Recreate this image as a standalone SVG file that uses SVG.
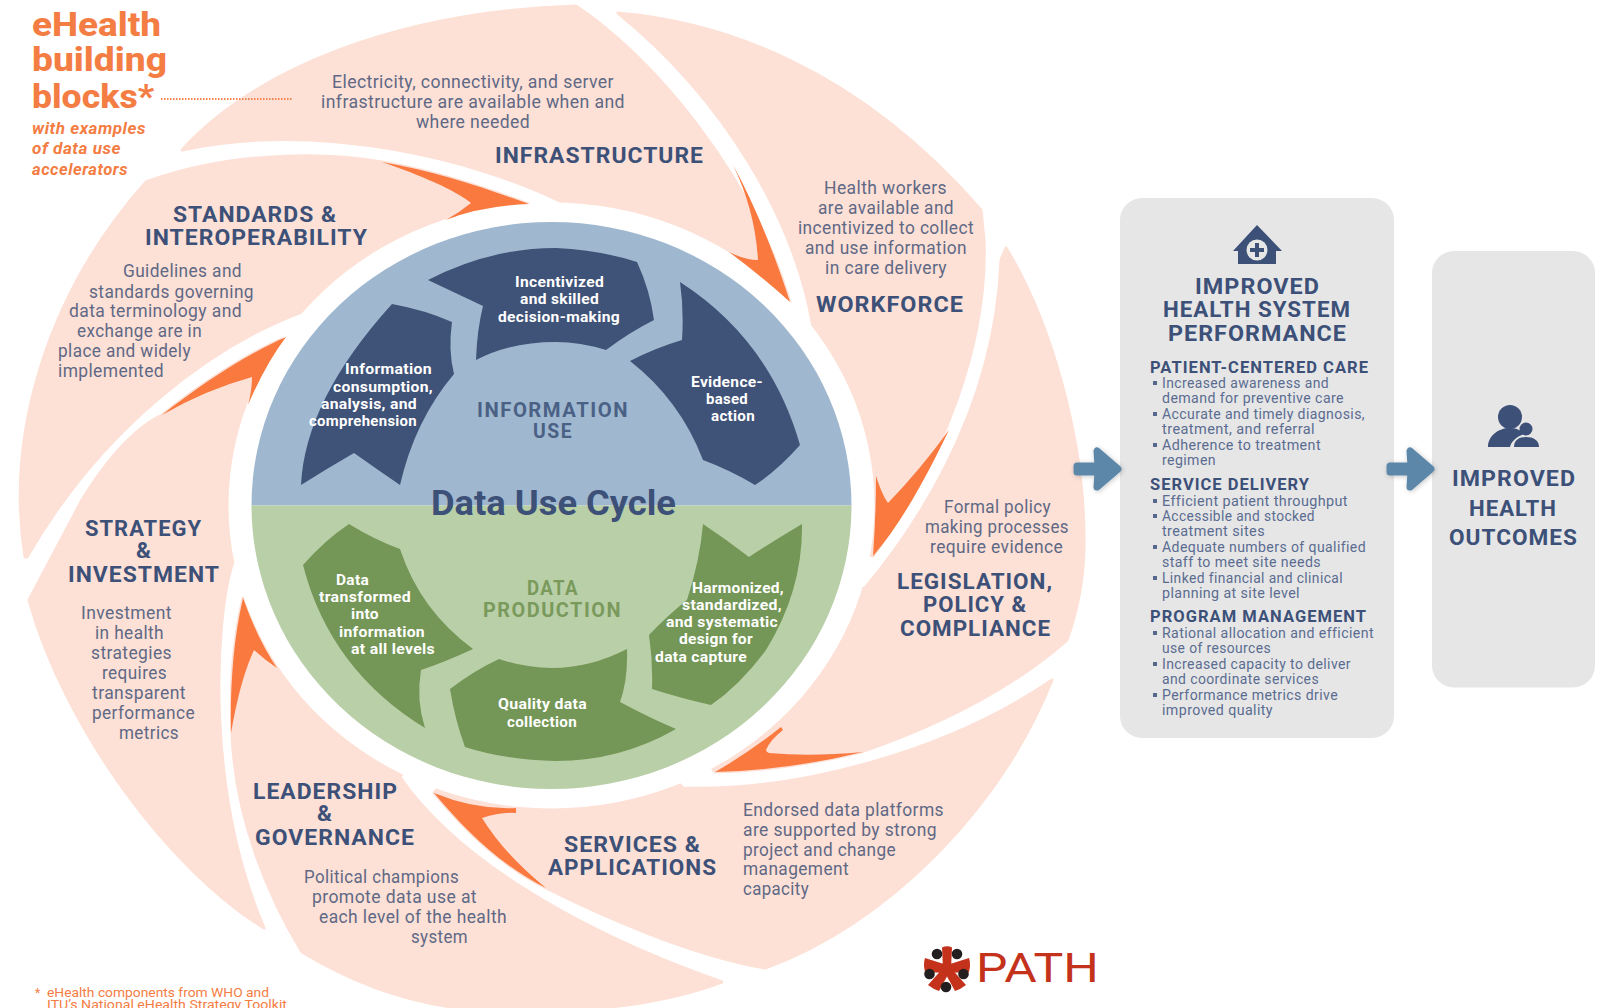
<svg xmlns="http://www.w3.org/2000/svg" width="1605" height="1008" viewBox="0 0 1605 1008">
<style>
text{font-family:Roboto,"Noto Sans",sans-serif}
.p{fill:#fde0d6;stroke:#fde0d6;stroke-width:3;stroke-linejoin:round}
.o{fill:#f9793f}
.b{font-size:17.5px;fill:#5f6985;letter-spacing:.4px}
.t{font-size:22.5px;font-weight:700;fill:#3c5078;letter-spacing:1px}
.w{font-size:15px;font-weight:700;fill:#fff;letter-spacing:.3px}
.h{font-size:16px;font-weight:700;fill:#3c5078;letter-spacing:1px}
.l{font-size:14px;fill:#5a6c90;letter-spacing:.4px}
.box{fill:#e6e6e7}
.ic{fill:#3c5078}
.ar{fill:#5b87a8;stroke:#5b87a8;stroke-width:7;stroke-linejoin:round;filter:url(#sh)}
.bu{fill:#56688c}
.db{fill:#3f5277}
.dg{fill:#749656}
.c{font-size:20px;font-weight:700;letter-spacing:1.5px}
.big{font-size:34px;font-weight:800}
.it{font-size:16px;font-weight:700;font-style:italic;letter-spacing:.5px}
</style>
<defs>
<filter id="sh" x="-30%" y="-30%" width="160%" height="160%"><feDropShadow dx="1" dy="1" stdDeviation="2.5" flood-color="#000" flood-opacity=".22"/></filter>
<path id="flow" class="ar" d="M-5,0L-26,-18L-25,-3L-46,-3L-46,3L-25,3L-26,18Z"/>
</defs>
<rect width="1605" height="1008" fill="#fff"/>

<g id="petal-infrastructure">
<path class="p" d="M182,150C255,70 395,12 576,6C650,55 750,170 790,302L560,300L568,205C480,160 320,120 182,150Z"/>
<text class="b" x="332" y="88" textLength="282" lengthAdjust="spacingAndGlyphs">Electricity, connectivity, and server</text>
<text class="b" x="321" y="108" textLength="304" lengthAdjust="spacingAndGlyphs">infrastructure are available when and</text>
<text class="b" x="416" y="128" textLength="114" lengthAdjust="spacingAndGlyphs">where needed</text>
<text class="t" x="495" y="163" textLength="209" lengthAdjust="spacingAndGlyphs">INFRASTRUCTURE</text>
</g>
<g id="petal-workforce">
<path class="p" d="M618,13C720,22 855,65 981,210L984,240C988,340 945,460 873,556L700,500L813,327C795,220 725,100 618,13Z"/>
<text class="b" x="824" y="194" textLength="123" lengthAdjust="spacingAndGlyphs">Health workers</text>
<text class="b" x="818" y="214" textLength="136" lengthAdjust="spacingAndGlyphs">are available and</text>
<text class="b" x="798" y="234" textLength="176" lengthAdjust="spacingAndGlyphs">incentivized to collect</text>
<text class="b" x="805" y="254" textLength="162" lengthAdjust="spacingAndGlyphs">and use information</text>
<text class="b" x="825" y="274" textLength="122" lengthAdjust="spacingAndGlyphs">in care delivery</text>
<text class="t" x="816" y="312" textLength="148" lengthAdjust="spacingAndGlyphs">WORKFORCE</text>
</g>
<g id="petal-legislation">
<path class="p" d="M1006,248C1050,320 1086,440 1084,550C1083,585 1076,615 1067,640C1010,690 940,725 861,752Q790,770 715,772L600,600L865,588C905,540 995,420 1001,260Z"/>
<text class="b" x="944" y="513" textLength="107" lengthAdjust="spacingAndGlyphs">Formal policy</text>
<text class="b" x="925" y="533" textLength="144" lengthAdjust="spacingAndGlyphs">making processes</text>
<text class="b" x="930" y="553" textLength="133" lengthAdjust="spacingAndGlyphs">require evidence</text>
<text class="t" x="897" y="589" textLength="156" lengthAdjust="spacingAndGlyphs">LEGISLATION,</text>
<text class="t" x="923" y="612" textLength="104" lengthAdjust="spacingAndGlyphs">POLICY &amp;</text>
<text class="t" x="900" y="636" textLength="151" lengthAdjust="spacingAndGlyphs">COMPLIANCE</text>
</g>
<g id="petal-services">
<path class="p" d="M1052,680C1000,810 885,925 765,968C690,955 600,915 546,888C500,865 465,830 434,793L550,650L683,788C800,792 950,750 1052,680Z"/>
<text class="b" x="743" y="816" textLength="201" lengthAdjust="spacingAndGlyphs">Endorsed data platforms</text>
<text class="b" x="743" y="836" textLength="194" lengthAdjust="spacingAndGlyphs">are supported by strong</text>
<text class="b" x="743" y="856" textLength="153" lengthAdjust="spacingAndGlyphs">project and change</text>
<text class="b" x="743" y="875" textLength="106" lengthAdjust="spacingAndGlyphs">management</text>
<text class="b" x="743" y="895" textLength="66" lengthAdjust="spacingAndGlyphs">capacity</text>
<text class="t" x="564" y="852" textLength="137" lengthAdjust="spacingAndGlyphs">SERVICES &amp;</text>
<text class="t" x="548" y="875" textLength="169" lengthAdjust="spacingAndGlyphs">APPLICATIONS</text>
</g>
<g id="petal-leadership">
<path class="p" d="M722,982C660,1005 580,1015 480,1010C400,1005 340,975 302,952C270,900 235,820 232,733C230,690 233,640 243,598L450,700L400,777C450,850 560,925 722,982Z"/>
<text class="t" x="253" y="799" textLength="145" lengthAdjust="spacingAndGlyphs">LEADERSHIP</text>
<text class="t" x="317" y="821" textLength="16" lengthAdjust="spacingAndGlyphs">&amp;</text>
<text class="t" x="255" y="845" textLength="160" lengthAdjust="spacingAndGlyphs">GOVERNANCE</text>
<text class="b" x="304" y="883" textLength="155" lengthAdjust="spacingAndGlyphs">Political champions</text>
<text class="b" x="312" y="903" textLength="165" lengthAdjust="spacingAndGlyphs">promote data use at</text>
<text class="b" x="319" y="923" textLength="188" lengthAdjust="spacingAndGlyphs">each level of the health</text>
<text class="b" x="411" y="943" textLength="57" lengthAdjust="spacingAndGlyphs">system</text>
</g>
<g id="petal-strategy">
<path class="p" d="M264,928C170,870 65,730 29,600L82,500C100,470 130,430 162,415C200,385 245,355 286,337L320,420L232,565C215,620 205,790 264,928Z"/>
<text class="t" x="85" y="536" textLength="117" lengthAdjust="spacingAndGlyphs">STRATEGY</text>
<text class="t" x="136" y="558" textLength="16" lengthAdjust="spacingAndGlyphs">&amp;</text>
<text class="t" x="68" y="582" textLength="152" lengthAdjust="spacingAndGlyphs">INVESTMENT</text>
<text class="b" x="81" y="619" textLength="91" lengthAdjust="spacingAndGlyphs">Investment</text>
<text class="b" x="95" y="639" textLength="69" lengthAdjust="spacingAndGlyphs">in health</text>
<text class="b" x="91" y="659" textLength="81" lengthAdjust="spacingAndGlyphs">strategies</text>
<text class="b" x="102" y="679" textLength="65" lengthAdjust="spacingAndGlyphs">requires</text>
<text class="b" x="92" y="699" textLength="94" lengthAdjust="spacingAndGlyphs">transparent</text>
<text class="b" x="92" y="719" textLength="103" lengthAdjust="spacingAndGlyphs">performance</text>
<text class="b" x="119" y="739" textLength="60" lengthAdjust="spacingAndGlyphs">metrics</text>
</g>
<g id="petal-standards">
<path class="p" d="M25,557C5,430 50,290 146,182C220,155 310,150 382,162C440,172 490,190 529,204L500,300L307,310C210,345 100,430 27,557Z"/>
<text class="t" x="173" y="222" textLength="164" lengthAdjust="spacingAndGlyphs">STANDARDS &amp;</text>
<text class="t" x="145" y="245" textLength="223" lengthAdjust="spacingAndGlyphs">INTEROPERABILITY</text>
<text class="b" x="123" y="277" textLength="119" lengthAdjust="spacingAndGlyphs">Guidelines and</text>
<text class="b" x="89" y="298" textLength="165" lengthAdjust="spacingAndGlyphs">standards governing</text>
<text class="b" x="69" y="317" textLength="173" lengthAdjust="spacingAndGlyphs">data terminology and</text>
<text class="b" x="77" y="337" textLength="125" lengthAdjust="spacingAndGlyphs">exchange are in</text>
<text class="b" x="58" y="357" textLength="133" lengthAdjust="spacingAndGlyphs">place and widely</text>
<text class="b" x="58" y="377" textLength="106" lengthAdjust="spacingAndGlyphs">implemented</text>
</g>

<ellipse cx="551.5" cy="505.5" rx="323" ry="303" fill="#fff"/>

<g id="data-use-cycle">
<path d="M251.5,505.5A300,283.5 0 0 1 851.5,505.5Z" fill="#a0b8cf"/>
<path d="M251.5,505.5A300,283.5 0 0 0 851.5,505.5Z" fill="#b9cfa8"/>
<g id="information-use">
<path class="db" d="M428,280Q490,248 556,248Q600,250 637,262Q650,290 654,320Q630,332 606,350Q580,342 556,342Q510,342 476,360Q477,330 483,306Z"/>
<path class="db" d="M680,282Q770,340 800,445Q778,470 755,485Q730,470 703,460Q680,400 630,361Q655,348 682,340Q684,310 680,282Z"/>
<path class="db" d="M392,304Q425,310 452,322Q448,350 454,374Q415,420 400,485Q378,470 354,453Q328,468 301,485Q305,400 392,304Z"/>
<text class="w" x="515" y="287" textLength="89" lengthAdjust="spacingAndGlyphs">Incentivized</text>
<text class="w" x="520" y="304" textLength="79" lengthAdjust="spacingAndGlyphs">and skilled</text>
<text class="w" x="498" y="322" textLength="122" lengthAdjust="spacingAndGlyphs">decision-making</text>
<text class="w" x="345" y="374" textLength="87" lengthAdjust="spacingAndGlyphs">Information</text>
<text class="w" x="333" y="392" textLength="100" lengthAdjust="spacingAndGlyphs">consumption,</text>
<text class="w" x="321" y="409" textLength="96" lengthAdjust="spacingAndGlyphs">analysis, and</text>
<text class="w" x="309" y="426" textLength="108" lengthAdjust="spacingAndGlyphs">comprehension</text>
<text class="w" x="691" y="387" textLength="72" lengthAdjust="spacingAndGlyphs">Evidence-</text>
<text class="w" x="706" y="404" textLength="42" lengthAdjust="spacingAndGlyphs">based</text>
<text class="w" x="711" y="421" textLength="44" lengthAdjust="spacingAndGlyphs">action</text>
<text class="c" x="477" y="417" textLength="152" lengthAdjust="spacingAndGlyphs" fill="#4a6185">INFORMATION</text>
<text class="c" x="533" y="438" textLength="40" lengthAdjust="spacingAndGlyphs" fill="#4a6185">USE</text>
</g>
<g id="data-production">
<path class="dg" d="M349,524Q375,540 400,549Q420,610 473,649Q445,662 421,670Q416,700 425,728Q330,670 303,565Q325,540 349,524Z"/>
<path class="dg" d="M499,659Q525,668 552,668Q590,668 627,649Q628,680 620,702Q650,718 676,729Q620,761 556,761Q505,760 465,747Q455,720 450,689Q475,670 499,659Z"/>
<path class="dg" d="M703,524Q727,540 749,557Q775,540 802,524Q803,590 766,650Q740,685 711,705Q680,698 652,689Q653,662 649,635Q668,615 687,600Q700,560 703,524Z"/>
<text class="w" x="336" y="585" textLength="33" lengthAdjust="spacingAndGlyphs">Data</text>
<text class="w" x="319" y="602" textLength="92" lengthAdjust="spacingAndGlyphs">transformed</text>
<text class="w" x="351" y="619" textLength="28" lengthAdjust="spacingAndGlyphs">into</text>
<text class="w" x="339" y="637" textLength="86" lengthAdjust="spacingAndGlyphs">information</text>
<text class="w" x="351" y="654" textLength="84" lengthAdjust="spacingAndGlyphs">at all levels</text>
<text class="w" x="692" y="593" textLength="92" lengthAdjust="spacingAndGlyphs">Harmonized,</text>
<text class="w" x="682" y="610" textLength="100" lengthAdjust="spacingAndGlyphs">standardized,</text>
<text class="w" x="666" y="627" textLength="112" lengthAdjust="spacingAndGlyphs">and systematic</text>
<text class="w" x="679" y="644" textLength="74" lengthAdjust="spacingAndGlyphs">design for</text>
<text class="w" x="655" y="662" textLength="92" lengthAdjust="spacingAndGlyphs">data capture</text>
<text class="w" x="498" y="709" textLength="89" lengthAdjust="spacingAndGlyphs">Quality data</text>
<text class="w" x="507" y="727" textLength="70" lengthAdjust="spacingAndGlyphs">collection</text>
<text class="c" x="527" y="595" textLength="52" lengthAdjust="spacingAndGlyphs" fill="#7a9a5c">DATA</text>
<text class="c" x="483" y="617" textLength="139" lengthAdjust="spacingAndGlyphs" fill="#7a9a5c">PRODUCTION</text>
</g>
<text x="431" y="515" textLength="245" lengthAdjust="spacingAndGlyphs" font-size="35" font-weight="700" fill="#3c5078">Data Use Cycle</text>
</g>

<g id="title" fill="#f47d44">
<text class="big" x="32" y="36" textLength="129" lengthAdjust="spacingAndGlyphs">eHealth</text>
<text class="big" x="32" y="71" textLength="135" lengthAdjust="spacingAndGlyphs">building</text>
<text class="big" x="32" y="108" textLength="122" lengthAdjust="spacingAndGlyphs">blocks*</text>
<text class="it" x="32" y="134" textLength="114" lengthAdjust="spacingAndGlyphs">with examples</text>
<text class="it" x="32" y="154" textLength="89" lengthAdjust="spacingAndGlyphs">of data use</text>
<text class="it" x="32" y="175" textLength="96" lengthAdjust="spacingAndGlyphs">accelerators</text>
<text x="35" y="997" font-size="12">*</text>
<text x="47" y="997" textLength="222" lengthAdjust="spacingAndGlyphs" font-size="13">eHealth components from WHO and</text>
<text x="47" y="1009" textLength="240" lengthAdjust="spacingAndGlyphs" font-size="13">ITU’s National eHealth Strategy Toolkit</text>
</g>

<g id="health-system-performance">
<rect class="box" x="1120" y="198" width="274" height="540" rx="22"/>
<path class="ic" d="M1257,225L1282,251L1276,251L1276,264L1238,264L1238,251L1233,251Z"/>
<circle cx="1257" cy="250" r="10.5" fill="#e6e6e7"/>
<path class="ic" d="M1255,243h4v5h5v4h-5v5h-4v-5h-5v-4h5z"/>
<text class="t" x="1195" y="294" textLength="125" lengthAdjust="spacingAndGlyphs">IMPROVED</text>
<text class="t" x="1163" y="317" textLength="188" lengthAdjust="spacingAndGlyphs">HEALTH SYSTEM</text>
<text class="t" x="1168" y="341" textLength="179" lengthAdjust="spacingAndGlyphs">PERFORMANCE</text>
<text class="h" x="1150" y="373" textLength="219" lengthAdjust="spacingAndGlyphs">PATIENT-CENTERED CARE</text>
<text class="l" x="1162" y="388" textLength="167" lengthAdjust="spacingAndGlyphs">Increased awareness and</text>
<text class="l" x="1162" y="403" textLength="182" lengthAdjust="spacingAndGlyphs">demand for preventive care</text>
<text class="l" x="1162" y="419" textLength="203" lengthAdjust="spacingAndGlyphs">Accurate and timely diagnosis,</text>
<text class="l" x="1162" y="434" textLength="153" lengthAdjust="spacingAndGlyphs">treatment, and referral</text>
<text class="l" x="1162" y="450" textLength="159" lengthAdjust="spacingAndGlyphs">Adherence to treatment</text>
<text class="l" x="1162" y="465" textLength="54" lengthAdjust="spacingAndGlyphs">regimen</text>
<text class="h" x="1150" y="490" textLength="160" lengthAdjust="spacingAndGlyphs">SERVICE DELIVERY</text>
<text class="l" x="1162" y="506" textLength="186" lengthAdjust="spacingAndGlyphs">Efficient patient throughput</text>
<text class="l" x="1162" y="521" textLength="153" lengthAdjust="spacingAndGlyphs">Accessible and stocked</text>
<text class="l" x="1162" y="536" textLength="103" lengthAdjust="spacingAndGlyphs">treatment sites</text>
<text class="l" x="1162" y="552" textLength="204" lengthAdjust="spacingAndGlyphs">Adequate numbers of qualified</text>
<text class="l" x="1162" y="567" textLength="159" lengthAdjust="spacingAndGlyphs">staff to meet site needs</text>
<text class="l" x="1162" y="583" textLength="181" lengthAdjust="spacingAndGlyphs">Linked financial and clinical</text>
<text class="l" x="1162" y="598" textLength="138" lengthAdjust="spacingAndGlyphs">planning at site level</text>
<text class="h" x="1150" y="622" textLength="217" lengthAdjust="spacingAndGlyphs">PROGRAM MANAGEMENT</text>
<text class="l" x="1162" y="638" textLength="212" lengthAdjust="spacingAndGlyphs">Rational allocation and efficient</text>
<text class="l" x="1162" y="653" textLength="109" lengthAdjust="spacingAndGlyphs">use of resources</text>
<text class="l" x="1162" y="669" textLength="189" lengthAdjust="spacingAndGlyphs">Increased capacity to deliver</text>
<text class="l" x="1162" y="684" textLength="157" lengthAdjust="spacingAndGlyphs">and coordinate services</text>
<text class="l" x="1162" y="700" textLength="176" lengthAdjust="spacingAndGlyphs">Performance metrics drive</text>
<text class="l" x="1162" y="715" textLength="111" lengthAdjust="spacingAndGlyphs">improved quality</text>
<g class="bu">
<rect x="1153" y="381" width="4" height="4"/><rect x="1153" y="412" width="4" height="4"/><rect x="1153" y="443" width="4" height="4"/>
<rect x="1153" y="499" width="4" height="4"/><rect x="1153" y="514" width="4" height="4"/><rect x="1153" y="545" width="4" height="4"/><rect x="1153" y="576" width="4" height="4"/>
<rect x="1153" y="631" width="4" height="4"/><rect x="1153" y="662" width="4" height="4"/><rect x="1153" y="693" width="4" height="4"/>
</g>
</g>

<g id="health-outcomes">
<rect class="box" x="1432" y="251" width="163" height="436.5" rx="22"/>
<circle class="ic" cx="1510" cy="417" r="12"/>
<path class="ic" d="M1488,447C1488,436 1498,428 1510,428C1517,428 1522,431 1524,434C1516,437 1511,442 1510,447Z"/>
<circle class="ic" cx="1526" cy="429" r="6.5"/>
<path class="ic" d="M1514,447C1514,440 1519,437 1526,437C1533,437 1539,440 1539,447Z"/>
<text class="t" x="1452" y="486" textLength="124" lengthAdjust="spacingAndGlyphs">IMPROVED</text>
<text class="t" x="1469" y="516" textLength="88" lengthAdjust="spacingAndGlyphs">HEALTH</text>
<text class="t" x="1449" y="545" textLength="129" lengthAdjust="spacingAndGlyphs">OUTCOMES</text>
</g>

<g id="path-logo">
<g fill="#c4321c">
<circle cx="947" cy="969" r="7"/>
<path d="M943,969L942,947.5Q947,945 952,947.5L951,969Z"/>
<path d="M947,965L969,958Q971,964 969,972L947,973Z"/>
<path d="M950,967L966,985Q961,989 955,991L944,971Z"/>
<path d="M944,967L928,985Q933,989 939,991L950,971Z"/>
<path d="M947,965L925,958Q923,964 925,972L947,973Z"/>
</g>
<g fill="#231f20"><circle cx="937" cy="954" r="5.3"/><circle cx="957" cy="954" r="5.3"/><circle cx="929.5" cy="974" r="5.3"/><circle cx="963.5" cy="974" r="5.3"/><circle cx="946" cy="987" r="5.3"/></g>
<text x="976" y="982" textLength="123" lengthAdjust="spacingAndGlyphs" font-size="40" fill="#c4321c">PATH</text>
</g>

<g id="connectors">
<path class="o" d="M382,162C440,172 490,190 529,204Q480,206 446,220Q460,212 471,203C455,190 420,175 382,162Z"/>
<path class="o" d="M733,165C755,205 775,255 790,302Q760,275 729,252Q745,260 758,260Q755,210 733,165Z"/>
<path class="o" d="M949,430C925,480 900,525 873,556Q876,515 876,476Q882,495 888,503Q920,470 949,430Z"/>
<path class="o" d="M863,752Q790,770 715,772Q750,752 781,727L783,730Q770,740 766,750Q766,752 769,753Q810,757 863,752Z"/>
<path class="o" d="M546,888C500,865 465,830 434,793Q475,810 516,808L516,813Q500,812 482,818Q505,855 546,888Z"/>
<path class="o" d="M231,733C230,690 233,640 243,598Q258,640 277,668Q265,660 254,650Q240,680 231,733Z"/>
<path class="o" d="M162,415C200,385 245,355 286,337Q265,365 248,405Q252,390 252,377Q205,390 162,415Z"/>
<use href="#flow" x="1123" y="469"/>
<use href="#flow" x="1436" y="469"/>
<line x1="161" y1="99" x2="293" y2="99" stroke="#f4834c" stroke-width="2" stroke-dasharray="1.5 1.5"/>
</g>
</svg>
